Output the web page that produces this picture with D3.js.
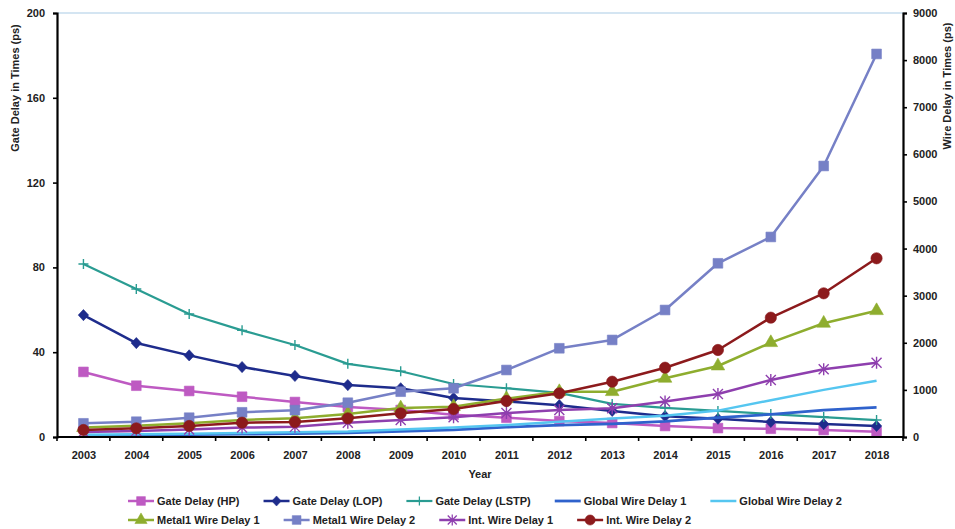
<!DOCTYPE html>
<html>
<head>
<meta charset="utf-8">
<script src="https://cdn.jsdelivr.net/npm/d3@7"></script>
<style>
  html, body { margin: 0; padding: 0; background: #fff; }
  svg { display: block; font-family: "Liberation Sans", Arial, sans-serif; }
  .tick text { font-weight: bold; font-size: 11px; fill: #222; }
</style>
</head>
<body>
<svg id="chart" width="955" height="529"></svg>
<script>
// Years on the category axis
const years = [2003, 2004, 2005, 2006, 2007, 2008, 2009, 2010, 2011, 2012, 2013, 2014, 2015, 2016, 2017, 2018];

// Gate delays (ps), left axis
const gateHP   = [30.7, 24.2, 21.7, 19.0, 16.5, 14.2, 12.7, 10.5, 9.1, 7.5, 6.6, 5.2, 4.2, 3.9, 3.3, 2.5];
const gateLOP  = [57.5, 44.3, 38.5, 33.0, 28.8, 24.5, 23.0, 18.4, 16.8, 15.0, 12.3, 9.8, 8.6, 7.1, 6.1, 5.2];
const gateLSTP = [81.6, 69.8, 58.0, 50.3, 43.4, 34.5, 31.0, 25.0, 23.0, 20.8, 15.6, 13.7, 12.3, 10.8, 9.4, 8.0];

// Wire delays (ps), right axis
const globalWire1 = [30, 40, 50, 60, 70, 90, 120, 150, 210, 250, 280, 330, 410, 480, 570, 630];
const globalWire2 = [50, 60, 70, 85, 100, 115, 160, 200, 255, 325, 395, 450, 560, 780, 1000, 1195];
const metal1Wire1 = [200, 240, 290, 360, 400, 490, 616, 644, 815, 962, 962, 1246, 1507, 2002, 2414, 2681];
const metal1Wire2 = [290, 325, 410, 524, 570, 728, 962, 1034, 1422, 1883, 2060, 2696, 3687, 4246, 5753, 8131];
const intWire1    = [106, 130, 160, 200, 215, 304, 361, 418, 510, 573, 609, 755, 913, 1210, 1437, 1578];
const intWire2    = [149, 184, 234, 304, 318, 397, 503, 594, 764, 927, 1174, 1471, 1847, 2533, 3050, 3793];

// Axis ticks
const leftTicks  = [0, 40, 80, 120, 160, 200];
const rightTicks = [0, 1000, 2000, 3000, 4000, 5000, 6000, 7000, 8000, 9000];

const series = [
  { name: "Gate Delay (HP)",     values: gateHP,      axis: "left",  color: "#BE5AC2", marker: "square",   width: 2.5 },
  { name: "Gate Delay (LOP)",    values: gateLOP,     axis: "left",  color: "#1E2C8C", marker: "diamond",  width: 2.5 },
  { name: "Gate Delay (LSTP)",   values: gateLSTP,    axis: "left",  color: "#2A9C92", marker: "plus",     width: 2.2 },
  { name: "Global Wire Delay 1", values: globalWire1, axis: "right", color: "#2F62CC", marker: null,       width: 2.8 },
  { name: "Global Wire Delay 2", values: globalWire2, axis: "right", color: "#55C6F0", marker: null,       width: 2.5 },
  { name: "Metal1 Wire Delay 1", values: metal1Wire1, axis: "right", color: "#8EAD2E", marker: "triangle", width: 2.5 },
  { name: "Metal1 Wire Delay 2", values: metal1Wire2, axis: "right", color: "#7680C6", marker: "square",   width: 2.5 },
  { name: "Int. Wire Delay 1",   values: intWire1,    axis: "right", color: "#8E3FAE", marker: "asterisk", width: 2.5 },
  { name: "Int. Wire Delay 2",   values: intWire2,    axis: "right", color: "#8C1A1C", marker: "circle",   width: 2.5 }
];

const svg = d3.select("#chart");
const margin = { left: 57, right: 52, top: 13, bottom: 92 };
const W = 955, H = 529;
const x0 = margin.left, x1 = W - margin.right, yTop = margin.top, yBot = H - margin.bottom;

const x = d3.scalePoint().domain(years).range([x0, x1]).padding(0.5);
const xBand = d3.scaleBand().domain(years).range([x0, x1]);
const yL = d3.scaleLinear().domain([0, 200]).range([yBot, yTop]);
const yR = d3.scaleLinear().domain([0, 9000]).range([yBot, yTop]);

// Top frame line
svg.append("line")
  .attr("x1", x0).attr("x2", x1).attr("y1", yTop).attr("y2", yTop)
  .attr("stroke", "#A9CBE6").attr("stroke-width", 1.2);

// Marker paths
function markerPath(type) {
  switch (type) {
    case "square":   return d3.symbol(d3.symbolSquare, 95)();
    case "diamond":  return "M0,-5.6L5.2,0L0,5.6L-5.2,0Z";
    case "triangle": return d3.symbol(d3.symbolTriangle, 80)();
    case "circle":   return d3.symbol(d3.symbolCircle, 100)();
    case "plus":     return "M-5,0H5M0,-5V5";
    case "asterisk": return "M-5,-5L5,5M-5,5L5,-5M0,-6V6";
  }
  return null;
}
function markerStyle(sel, s) {
  const stroked = s.marker === "plus" || s.marker === "asterisk";
  sel.attr("fill", stroked ? "none" : s.color)
     .attr("stroke", s.color)
     .attr("stroke-width", stroked ? 1.4 : 0.6);
}

const line = (yScale) => d3.line().x((d, i) => x(years[i])).y(d => yScale(d));

const plot = svg.append("g");
series.forEach(s => {
  const yS = s.axis === "left" ? yL : yR;
  const g = plot.append("g");
  g.append("path")
    .attr("d", line(yS)(s.values))
    .attr("fill", "none")
    .attr("stroke", s.color)
    .attr("stroke-width", s.width)
    .attr("stroke-linejoin", "round");
  if (s.marker) {
    g.selectAll("path.m").data(s.values).join("path")
      .attr("class", "m")
      .attr("d", markerPath(s.marker))
      .attr("transform", (d, i) => `translate(${x(years[i])},${yS(d)})`)
      .call(markerStyle, s);
  }
});

// Left axis
const leftAxis = svg.append("g").attr("transform", `translate(${x0},0)`)
  .call(d3.axisLeft(yL).tickValues(leftTicks).tickSize(4).tickPadding(8));
// Right axis
const rightAxis = svg.append("g").attr("transform", `translate(${x1},0)`)
  .call(d3.axisRight(yR).tickValues(rightTicks).tickFormat(d3.format("d")).tickSize(4).tickPadding(6));
// Bottom axis with labels centered on categories
const bottomAxis = svg.append("g").attr("transform", `translate(0,${yBot})`)
  .call(d3.axisBottom(x).tickSize(0).tickPadding(14));
[leftAxis, rightAxis, bottomAxis].forEach(a => {
  a.select(".domain").attr("stroke", "#000").attr("stroke-width", 2.2);
  a.selectAll(".tick line").attr("stroke", "#000").attr("stroke-width", 1.6);
});
bottomAxis.select(".domain").attr("d", `M${x0},0H${x1}`);
// Category boundary ticks
const boundaries = years.map(yv => xBand(yv)).concat([x1]);
bottomAxis.selectAll("line.bt").data(boundaries).join("line")
  .attr("class", "bt")
  .attr("x1", d => d).attr("x2", d => d).attr("y1", 0).attr("y2", 4)
  .attr("stroke", "#000").attr("stroke-width", 1.6);

// Axis titles
svg.append("text")
  .attr("transform", `translate(19,${yTop + 75}) rotate(-90)`)
  .attr("text-anchor", "middle")
  .attr("font-size", 11).attr("font-weight", "bold").attr("fill", "#222")
  .text("Gate Delay in Times (ps)");
svg.append("text")
  .attr("transform", `translate(951,${yTop + 73}) rotate(-90)`)
  .attr("text-anchor", "middle")
  .attr("font-size", 11).attr("font-weight", "bold").attr("fill", "#222")
  .text("Wire Delay in Times (ps)");
svg.append("text")
  .attr("x", (x0 + x1) / 2).attr("y", 478)
  .attr("text-anchor", "middle")
  .attr("font-size", 11).attr("font-weight", "bold").attr("fill", "#222")
  .text("Year");

// Legend: two rows, items flowed left to right
const legendRows = [series.slice(0, 5), series.slice(5)];
const rowY = [501, 520];
legendRows.forEach((row, r) => {
  let cx = 128;
  row.forEach(s => {
    const g = svg.append("g").attr("transform", `translate(${cx},${rowY[r]})`);
    g.append("line").attr("x1", 0).attr("x2", 26).attr("y1", 0).attr("y2", 0)
      .attr("stroke", s.color).attr("stroke-width", s.width);
    if (s.marker) {
      g.append("path").attr("d", markerPath(s.marker))
        .attr("transform", "translate(13,0) scale(0.9)")
        .call(markerStyle, s);
    }
    const t = g.append("text").attr("x", 29).attr("y", 4)
      .attr("font-size", 11).attr("font-weight", "bold").attr("fill", "#222")
      .text(s.name);
    cx += 29 + t.node().getComputedTextLength() + 24;
  });
});
</script>
</body>
</html>
